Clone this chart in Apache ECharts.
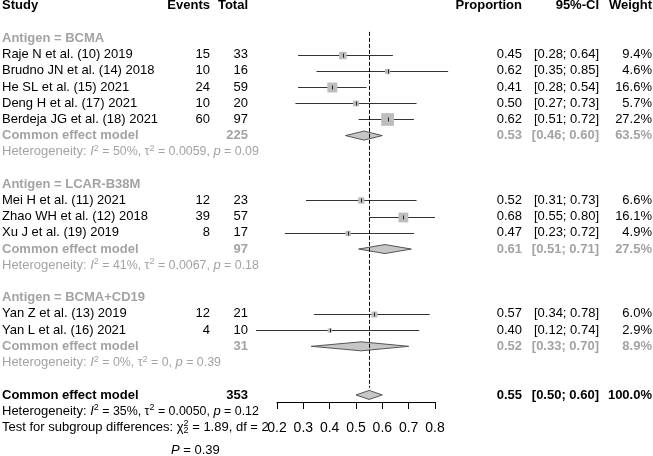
<!DOCTYPE html>
<html>
<head>
<meta charset="utf-8">
<script src="https://cdn.jsdelivr.net/npm/echarts@6/dist/echarts.min.js"></script>
<style>
html, body { margin: 0; padding: 0; background: #fff; }
#main { width: 653px; height: 456px; }
</style>
</head>
<body>
<div id="main"></div>
<script>
var studies = ['Raje N et al. (10) 2019', 'Brudno JN et al. (14) 2018', 'He SL et al. (15) 2021',
    'Deng H et al. (17) 2021', 'Berdeja JG et al. (18) 2021', 'Mei H et al. (11) 2021',
    'Zhao WH et al. (12) 2018', 'Xu J et al. (19) 2019', 'Yan Z et al. (13) 2019', 'Yan L et al. (16) 2021'];
var events = [15, 10, 24, 10, 60, 12, 39, 8, 12, 4];
var totals = [33, 16, 59, 20, 97, 23, 57, 17, 21, 10];
var props = [0.45, 0.62, 0.41, 0.50, 0.62, 0.52, 0.68, 0.47, 0.57, 0.40];
var lower = [0.28, 0.35, 0.28, 0.27, 0.51, 0.31, 0.55, 0.23, 0.34, 0.12];
var upper = [0.64, 0.85, 0.54, 0.73, 0.72, 0.73, 0.80, 0.72, 0.78, 0.74];
var weights = [9.4, 4.6, 16.6, 5.7, 27.2, 6.6, 16.1, 4.9, 6.0, 2.9];

var groups = ['Antigen = BCMA', 'Antigen = LCAR-B38M', 'Antigen = BCMA+CD19'];
var groupSizes = [5, 3, 2];
var groupTotals = [225, 97, 31];
var groupEst = [0.53, 0.61, 0.52];
var groupLower = [0.46, 0.51, 0.33];
var groupUpper = [0.60, 0.71, 0.70];
var groupWeights = [63.5, 27.5, 8.9];
var groupI2 = ['50%', '41%', '0%'];
var groupTau2 = ['0.0059', '0.0067', '0'];
var groupP = ['0.09', '0.18', '0.39'];

var overallTotal = 353;
var overallEst = 0.55, overallLower = 0.50, overallUpper = 0.60, overallWeight = 100.0;
var overallI2 = '35%', overallTau2 = '0.0050', overallP = '0.12';
var subgroupChi2 = '1.89', subgroupDf = '2', subgroupP = '0.39';

var tickLabels = ['0.2', '0.3', '0.4', '0.5', '0.6', '0.7', '0.8'];

var FAM = '"Liberation Sans", Arial, sans-serif';
var GRAY = '#a3a3a3';
var col = { study: 2, events: 210, total: 248, prop: 522, ci: 599, weight: 652 };

var rich = {
    n: { font: '13px ' + FAM, lineHeight: 16 },
    h: { font: '12.4px ' + FAM, lineHeight: 16 },
    i: { font: 'italic 13px ' + FAM, lineHeight: 16 },
    s: { font: '9px ' + FAM, verticalAlign: 'top' },
    w: { font: '9px ' + FAM, verticalAlign: 'top', width: 0.1 },
    b: { font: '9px ' + FAM, verticalAlign: 'bottom' }
};

function ci(lo, hi) { return '[' + lo.toFixed(2) + '; ' + hi.toFixed(2) + ']'; }
function het(i2, tau2, p) {
    return '{n|Heterogeneity: }{i|I}{s|2}{h| = ' + i2 + ', \u03c4}{s|2}{h| = ' + tau2 + ', }{i|p}{h| = ' + p + '}';
}

// rows of text, study marks and diamonds
var textRows = [];
var studyData = [];
var diamondData = [];
textRows.push({ row: 0, cells: [
    { x: col.study, text: 'Study', bold: true },
    { x: col.events, text: 'Events', bold: true, align: 'right' },
    { x: col.total, text: 'Total', bold: true, align: 'right' },
    { x: col.prop, text: 'Proportion', bold: true, align: 'right' },
    { x: col.ci, text: '95%-CI', bold: true, align: 'right' },
    { x: col.weight, text: 'Weight', bold: true, align: 'right' }
]});
var r = 2, k = 0;
groups.forEach(function (g, gi) {
    textRows.push({ row: r, cells: [{ x: col.study, text: g, bold: true, color: GRAY }] });
    r++;
    for (var j = 0; j < groupSizes[gi]; j++, k++, r++) {
        studyData.push([lower[k], r, upper[k], props[k], weights[k]]);
        textRows.push({ row: r, cells: [
            { x: col.study, text: studies[k] },
            { x: col.events, text: String(events[k]), align: 'right' },
            { x: col.total, text: String(totals[k]), align: 'right' },
            { x: col.prop, text: props[k].toFixed(2), align: 'right' },
            { x: col.ci, text: ci(lower[k], upper[k]), align: 'right' },
            { x: col.weight, text: weights[k].toFixed(1) + '%', align: 'right' }
        ]});
    }
    diamondData.push([groupLower[gi], r, groupUpper[gi], groupEst[gi]]);
    textRows.push({ row: r, cells: [
        { x: col.study, text: 'Common effect model', bold: true, color: GRAY },
        { x: col.total, text: String(groupTotals[gi]), bold: true, color: GRAY, align: 'right' },
        { x: col.prop, text: groupEst[gi].toFixed(2), bold: true, color: GRAY, align: 'right' },
        { x: col.ci, text: ci(groupLower[gi], groupUpper[gi]), bold: true, color: GRAY, align: 'right' },
        { x: col.weight, text: groupWeights[gi].toFixed(1) + '%', bold: true, color: GRAY, align: 'right' }
    ]});
    r++;
    textRows.push({ row: r, cells: [{ x: col.study, rich: het(groupI2[gi], groupTau2[gi], groupP[gi]), color: GRAY }] });
    r += 2;
});
diamondData.push([overallLower, r, overallUpper, overallEst]);
textRows.push({ row: r, cells: [
    { x: col.study, text: 'Common effect model', bold: true },
    { x: col.total, text: String(overallTotal), bold: true, align: 'right' },
    { x: col.prop, text: overallEst.toFixed(2), bold: true, align: 'right' },
    { x: col.ci, text: ci(overallLower, overallUpper), bold: true, align: 'right' },
    { x: col.weight, text: overallWeight.toFixed(1) + '%', bold: true, align: 'right' }
]});
textRows.push({ row: r + 1, cells: [{ x: col.study, rich: het(overallI2, overallTau2, overallP) }] });
textRows.push({ row: r + 2, cells: [{ x: col.study,
    rich: '{n|Test for subgroup differences: \u03c7}{w|2}{b|2}{n| = ' + subgroupChi2 + ', df = ' + subgroupDf + '}' }] });
textRows.push({ row: r + 3.4, cells: [{ x: 171, rich: '{i|P}{n| = ' + subgroupP + '}' }] });

var crisp = function (v) { return Math.round(v) + 0.5; };

var myChart = echarts.init(document.getElementById('main'));

option = {
    backgroundColor: '#fff',
    animation: false,
    grid: [
        { left: 277, width: 158, top: 0, height: 456 },
        { left: 277, width: 158, top: 395, height: 7 }
    ],
    xAxis: [
        { type: 'value', min: 0.2, max: 0.8, show: false },
        {
            type: 'value', gridIndex: 1, min: 0.2, max: 0.8, interval: 0.1,
            splitLine: { show: false },
            axisLine: { lineStyle: { color: '#000', width: 1 } },
            axisTick: { length: 7, lineStyle: { color: '#000' } },
            axisLabel: {
                color: '#000', fontSize: 14, fontFamily: FAM, margin: 19,
                formatter: function (v) { return tickLabels[Math.round((v - 0.2) * 10)]; }
            }
        }
    ],
    yAxis: [
        { type: 'value', min: -0.364, max: 27.766, inverse: true, show: false },
        { type: 'value', gridIndex: 1, show: false }
    ],
    series: [
        {
            type: 'custom',
            silent: true,
            data: studyData,
            renderItem: function (params, api) {
                var lo = api.coord([api.value(0), api.value(1)]);
                var hi = api.coord([api.value(2), api.value(1)]);
                var c = api.coord([api.value(3), api.value(1)]);
                var s = 2.44 * Math.sqrt(api.value(4));
                var y = crisp(lo[1]);
                return {
                    type: 'group',
                    children: [
                        { type: 'line', shape: { x1: lo[0], y1: y, x2: hi[0], y2: y },
                          style: { stroke: '#333', lineWidth: 1 } },
                        { type: 'rect', shape: { x: c[0] - s / 2, y: y - s / 2, width: s, height: s },
                          style: { fill: '#bdbdbd' } },
                        { type: 'line', shape: { x1: crisp(c[0]), y1: y - 2, x2: crisp(c[0]), y2: y + 2 },
                          style: { stroke: '#222', lineWidth: 1 } }
                    ]
                };
            }
        },
        {
            type: 'custom',
            silent: true,
            data: diamondData,
            renderItem: function (params, api) {
                var lo = api.coord([api.value(0), api.value(1)]);
                var hi = api.coord([api.value(2), api.value(1)]);
                var c = api.coord([api.value(3), api.value(1)]);
                var h = 4.5;
                return {
                    type: 'polygon',
                    shape: { points: [[lo[0], lo[1]], [c[0], c[1] - h], [hi[0], hi[1]], [c[0], c[1] + h]] },
                    style: { fill: '#c6c6c6', stroke: '#555', lineWidth: 1 }
                };
            }
        },
        {
            type: 'custom',
            silent: true,
            data: [[overallEst, 1.6, 23.55]],
            renderItem: function (params, api) {
                var a = api.coord([api.value(0), api.value(1)]);
                var b = api.coord([api.value(0), api.value(2)]);
                var x = crisp(a[0]);
                return {
                    type: 'line',
                    shape: { x1: x, y1: a[1], x2: x, y2: b[1] },
                    style: { stroke: '#000', lineWidth: 1, lineDash: [4, 2] }
                };
            }
        },
        {
            type: 'custom',
            silent: true,
            data: textRows.map(function (t, i) { return [0.5, t.row, i]; }),
            renderItem: function (params, api) {
                var y = api.coord([api.value(0), api.value(1)])[1];
                var cells = textRows[api.value(2)].cells;
                return {
                    type: 'group',
                    children: cells.map(function (c) {
                        var color = c.color || '#000';
                        if (c.rich) {
                            return { type: 'text', style: {
                                text: c.rich, x: c.x, y: y, rich: rich, fill: color,
                                font: '13px ' + FAM, align: c.align || 'left', verticalAlign: 'middle'
                            } };
                        }
                        return { type: 'text', style: {
                            text: c.text, x: c.x, y: y, fill: color,
                            font: (c.bold ? 'bold ' : '') + '13px ' + FAM,
                            align: c.align || 'left', verticalAlign: 'middle'
                        } };
                    })
                };
            }
        }
    ]
};
myChart.setOption(option);
</script>
</body>
</html>
